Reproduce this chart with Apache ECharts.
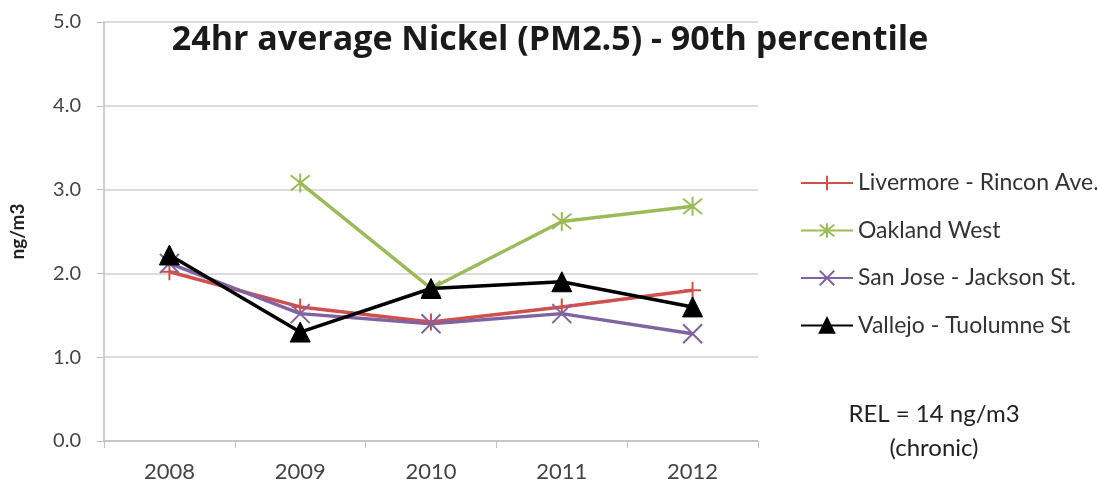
<!DOCTYPE html>
<html><head><meta charset="utf-8">
<script src="https://cdn.jsdelivr.net/npm/echarts@6/dist/echarts.min.js"></script>
<style>html,body{margin:0;padding:0;background:#fff}#c{width:1097px;height:484px}</style>
</head><body><div id="c"></div>
<script>
const categories = ['2008','2009','2010','2011','2012'];
const livermore = [2.02, 1.6, 1.42, 1.6, 1.8];
const oakland = [null, 3.08, 1.82, 2.62, 2.8];
const sanJose = [2.12, 1.52, 1.4, 1.52, 1.28];
const vallejo = [2.22, 1.3, 1.82, 1.9, 1.6];
const seriesNames = ['Livermore - Rincon Ave.', 'Oakland West', 'San Jose - Jackson St.', 'Vallejo - Tuolumne St'];

const FONT = 'Lato, "Open Sans", sans-serif';
const TFONT = '"Open Sans", Lato, sans-serif';
const plus = 'path://M0,-10 L0,10 M-10,0 L10,0';
const star = 'path://M-8,-8 L8,8 M-8,8 L8,-8 M0,-10 L0,10';
const cross = 'path://M-8,-8 L8,8 M-8,8 L8,-8';

function mk(name, data, color, symbol, size, extra) {
  return Object.assign({
    name, type: 'line', data, symbol, symbolSize: size,
    lineStyle: {color, width: 3.5},
    itemStyle: {color, borderColor: color, borderWidth: 2},
    connectNulls: false, z: 2
  }, extra || {});
}

const chart = echarts.init(document.getElementById('c'));
chart.setOption({
  animation: false,
  backgroundColor: '#fff',
  title: {
    text: '24hr average Nickel (PM2.5) - 90th percentile',
    left: 545, top: 18, textAlign: 'center',
    textStyle: {fontFamily: TFONT, fontSize: 34, fontWeight: 'bold', color: '#1a1a1a'}
  },
  legend: {
    orient: 'vertical', left: 795, top: 166, itemGap: 23.5, itemWidth: 52, itemHeight: 18,
    textStyle: {fontFamily: FONT, fontSize: 23, lineHeight: 24, color: '#333'},
    data: seriesNames
  },
  grid: {left: 97, top: 22, width: 661, height: 419},
  xAxis: {
    type: 'category', data: categories, boundaryGap: true,
    axisLine: {lineStyle: {color: '#bfbfbf', width: 1.5}},
    axisTick: {show: true, length: 7, lineStyle: {color: '#bfbfbf'}},
    axisLabel: {fontFamily: FONT, fontSize: 22, color: '#444', margin: 20}
  },
  yAxis: {
    type: 'value', min: 0, max: 5, interval: 1,
    name: 'ng/m3', nameLocation: 'middle', nameGap: 77, nameRotate: 90,
    nameTextStyle: {fontFamily: FONT, fontSize: 19, fontWeight: 'bold', color: '#222'},
    axisLine: {show: true, lineStyle: {color: '#bfbfbf', width: 1.5}},
    axisTick: {show: true, length: 7, lineStyle: {color: '#bfbfbf'}},
    splitLine: {lineStyle: {color: '#d0d0d0', width: 1.5}},
    axisLabel: {fontFamily: FONT, fontSize: 20, color: '#444', margin: 23, formatter: v => v.toFixed(1)}
  },
  graphic: [
    {type: 'text', x: 934, y: 414, style: {text: 'REL = 14 ng/m3', font: '24px ' + FONT, fill: '#222', align: 'center', verticalAlign: 'middle'}},
    {type: 'text', x: 934, y: 448, style: {text: '(chronic)', font: '24px ' + FONT, fill: '#222', align: 'center', verticalAlign: 'middle'}}
  ],
  series: [
    mk(seriesNames[0], livermore, '#D0504D', plus, 17),
    mk(seriesNames[1], oakland, '#9BBB59', star, 19),
    mk(seriesNames[2], sanJose, '#8064A2', cross, 19),
    mk(seriesNames[3], vallejo, '#000000', 'triangle', 20, {itemStyle: {color: '#000', borderColor: '#000', borderWidth: 1}, z: 3})
  ]
});
</script></body></html>
